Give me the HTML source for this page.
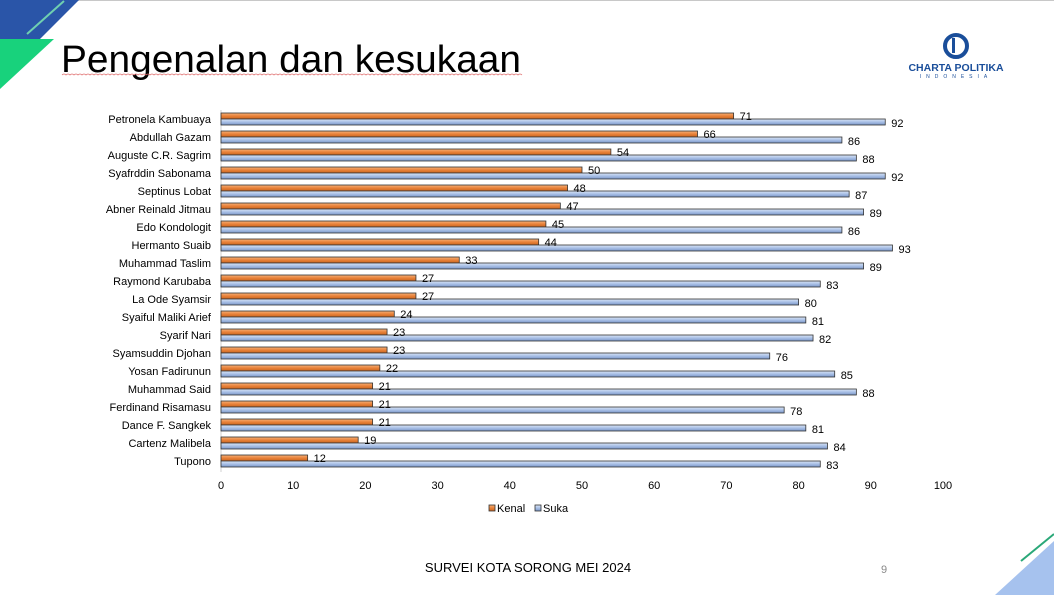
<!DOCTYPE html>
<html><head><meta charset="utf-8"><style>
body{margin:0;width:1054px;height:595px;overflow:hidden;background:#fff;font-family:"Liberation Sans",sans-serif;position:relative}
svg text{font-family:"Liberation Sans",sans-serif}
</style></head><body>
<svg width="1054" height="595" style="position:absolute;left:0;top:0">
<line x1="0" y1="0.5" x2="1054" y2="0.5" stroke="#c8c8c8"/>
<polygon points="0,0 79,0 40,39 0,39" fill="#2a55a8"/>
<line x1="27" y1="34" x2="64" y2="1" stroke="#6fd0b0" stroke-width="2"/>
<polygon points="0,39 54,39 0,89" fill="#18d27c"/>
<text x="61" y="72" font-size="38" fill="#000" textLength="460" lengthAdjust="spacingAndGlyphs">Pengenalan dan kesukaan</text>
<path id="squig" d="" fill="none" stroke="#e07070" stroke-width="0.8"/>
<g>
<circle cx="956" cy="46" r="11" fill="none" stroke="#1a4e9a" stroke-width="4"/>
<rect x="952" y="38" width="3" height="15" fill="#1a4e9a"/>
<text x="956" y="71" font-size="10.5" font-weight="bold" fill="#1a4e9a" text-anchor="middle">CHARTA POLITIKA</text>
<text x="956" y="78" font-size="5" fill="#1a4e9a" text-anchor="middle" letter-spacing="5">INDONESIA</text>
</g>
<polygon points="1054,541 1054,595 995,595" fill="#a6c2ee"/>
<line x1="1021" y1="561" x2="1054" y2="534" stroke="#2aa878" stroke-width="2"/>
<text x="528" y="572" font-size="13" text-anchor="middle">SURVEI KOTA SORONG MEI 2024</text>
<text x="884" y="573" font-size="11" fill="#888" text-anchor="middle">9</text>
<g id="chart"></g>
</svg>
<script>
(function(){let d="M62 75";for(let px=62;px<520;px+=4)d+=" q2 -2 4 0";document.getElementById('squig').setAttribute('d',d);})();
</script>
<script>
const names=["Petronela Kambuaya","Abdullah Gazam","Auguste C.R. Sagrim","Syafrddin Sabonama","Septinus Lobat","Abner Reinald Jitmau","Edo Kondologit","Hermanto Suaib","Muhammad Taslim","Raymond Karubaba ","La Ode Syamsir","Syaiful Maliki Arief","Syarif Nari","Syamsuddin Djohan","Yosan Fadirunun","Muhammad Said","Ferdinand Risamasu","Dance F. Sangkek","Cartenz Malibela","Tupono"];
const kenal=[71,66,54,50,48,47,45,44,33,27,27,24,23,23,22,21,21,21,19,12];
const suka=[92,86,88,92,87,89,86,93,89,83,80,81,82,76,85,88,78,81,84,83];
const ticks=[0,10,20,30,40,50,60,70,80,90,100];
const NS="http://www.w3.org/2000/svg";
const g=document.getElementById('chart');
const x=v=>221+v*7.22;
const y=i=>112+i*18;
function mk(t,a,txt){const e=document.createElementNS(NS,t);for(const k in a)e.setAttribute(k,a[k]);if(txt!==undefined)e.textContent=txt;g.appendChild(e);return e;}
const defs=mk('defs',{});
defs.innerHTML='<linearGradient id="go" x1="0" y1="0" x2="0" y2="1"><stop offset="0" stop-color="#f6b27a"/><stop offset="0.5" stop-color="#e9823a"/><stop offset="1" stop-color="#c8651f"/></linearGradient><linearGradient id="gb" x1="0" y1="0" x2="0" y2="1"><stop offset="0" stop-color="#dbe6f7"/><stop offset="0.5" stop-color="#a9c0e6"/><stop offset="1" stop-color="#7a96c8"/></linearGradient>';
const ax=mk('line',{x1:221,y1:110,x2:221,y2:472,stroke:'#d0d0d0'});


names.forEach((n,i)=>{
 const l=mk('text',{x:211,y:y(i)+11,'font-size':11,'text-anchor':'end'},n);
 
 
 const b1=mk('rect',{x:221,y:y(i)+1,width:x(kenal[i])-221,height:6,fill:'url(#go)',stroke:'#333','stroke-width':0.8});
 
 
 const b2=mk('rect',{x:221,y:y(i)+7,width:x(suka[i])-221,height:6,fill:'url(#gb)',stroke:'#333','stroke-width':0.8});
 
 
 const v1=mk('text',{x:x(kenal[i])+6,y:y(i)+8,'font-size':11},kenal[i]);
 
 
 const v2=mk('text',{x:x(suka[i])+6,y:y(i)+15,'font-size':11},suka[i]);
 
 
});
ticks.forEach(t=>{
 const e=mk('text',{x:x(t),y:489,'font-size':11,'text-anchor':'middle'},t);
 
 
});
const lg=[["Kenal",'url(#go)',489],["Suka",'url(#gb)',535]];
lg.forEach(d=>{
 const r=mk('rect',{x:d[2],y:505,width:6,height:6,fill:d[1],stroke:'#333','stroke-width':0.8});
 
 
 const t=mk('text',{x:d[2]+8,y:512,'font-size':11},d[0]);
 
 
});
</script>
</body></html>
